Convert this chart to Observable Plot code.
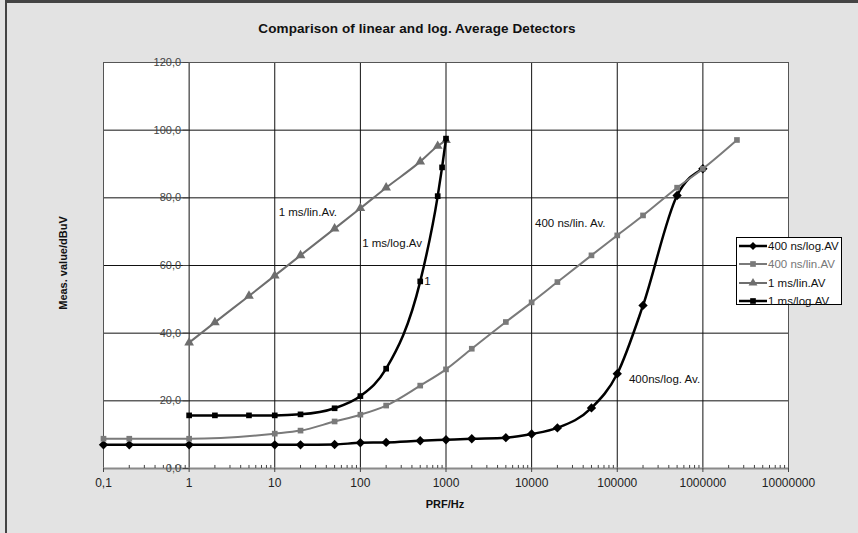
<!DOCTYPE html>
<html><head><meta charset="utf-8">
<script src="https://cdn.jsdelivr.net/npm/d3@7"></script>
<script src="https://cdn.jsdelivr.net/npm/@observablehq/plot@0.6"></script>
<style>
html,body{margin:0;padding:0;background:#e3e3e3;}
#wrap{position:relative;width:858px;height:533px;overflow:hidden;font-family:"Liberation Sans",Arial,sans-serif;background:#e3e3e3;}
#frame{position:absolute;left:5px;top:0;width:900px;height:600px;border-left:2px solid #444;border-top:3px solid #444;box-sizing:border-box;pointer-events:none;}
#title{position:absolute;left:0;width:834px;top:21px;text-align:center;font-size:13.5px;font-weight:bold;color:#111;letter-spacing:0.1px;}
#ylab{position:absolute;left:63px;top:263px;transform:translate(-50%,-50%) rotate(-90deg);white-space:nowrap;font-size:11px;font-weight:bold;color:#111;}
#xlab{position:absolute;left:445px;top:504px;transform:translate(-50%,-50%);white-space:nowrap;font-size:11px;font-weight:bold;color:#111;}
#legend{position:absolute;left:736px;top:237px;width:106px;height:68px;border:1px solid #000;background:#fff;box-sizing:border-box;}
.row{position:absolute;left:1px;height:14px;display:flex;align-items:center;font-size:11.5px;white-space:nowrap;}
#chart{position:absolute;left:0;top:0;}
</style>
</head><body>
<div id="wrap">
  <div id="chart"></div>
  <div id="title">Comparison of linear and log. Average Detectors</div>
  <div id="ylab">Meas. value/dBuV</div>
  <div id="xlab">PRF/Hz</div>
  <div id="legend"></div>
  <div id="frame"></div>
</div>
<script>
// ---- data ----
const seriesNames = ["400 ns/log.AV", "400 ns/lin.AV", "1 ms/lin.AV", "1 ms/log.AV"];

const ns400LogX = [0.1, 0.2, 1, 10, 20, 50, 100, 200, 500, 1000, 2000, 5000, 10000, 20000, 50000, 100000, 200000, 500000, 1000000];
const ns400LogY = [7.0, 7.0, 7.0, 7.0, 7.0, 7.1, 7.6, 7.7, 8.2, 8.5, 8.8, 9.1, 10.2, 12.0, 17.9, 28.0, 48.2, 80.7, 88.6];

const ns400LinX = [0.1, 0.2, 1, 10, 20, 50, 100, 200, 500, 1000, 2000, 5000, 10000, 20000, 50000, 100000, 200000, 500000, 1000000, 2500000];
const ns400LinY = [8.8, 8.8, 8.8, 10.3, 11.2, 13.9, 15.9, 18.6, 24.5, 29.3, 35.4, 43.3, 49.1, 55.1, 63.0, 68.9, 74.8, 83.0, 88.6, 97.1];

const ms1LinX = [1, 2, 5, 10, 20, 50, 100, 200, 500, 800, 1000];
const ms1LinY = [37.2, 43.2, 51.0, 57.0, 63.0, 70.9, 76.9, 83.0, 90.7, 95.3, 97.0];

const ms1LogX = [1, 2, 5, 10, 20, 50, 100, 200, 500, 800, 900, 1000];
const ms1LogY = [15.7, 15.7, 15.7, 15.7, 16.0, 17.8, 21.4, 29.5, 55.3, 80.5, 89.0, 97.5];

const xTicks = [0.1, 1, 10, 100, 1000, 10000, 100000, 1000000, 10000000];
const xTickLabels = ["0,1", "1", "10", "100", "1000", "10000", "100000", "1000000", "10000000"];
const yTicks = [0, 20, 40, 60, 80, 100, 120];

const annoText = ["1 ms/lin.Av.", "1 ms/log.Av", "400 ns/lin. Av.", "400ns/log. Av."];
const annoX = [11.1, 105, 10950, 137000];
const annoY = [75.7, 66.6, 72.6, 26.5];

const pointLabelText = ["1"];
const pointLabelX = [500];
const pointLabelY = [55.3];

// ---- build ----
const zip = (xs, ys) => xs.map((x, i) => ({x, y: ys[i]}));
const styles = [
  {data: zip(ns400LogX, ns400LogY), color: "#000", width: 2.5, symbol: "diamond2", r: 4.2},
  {data: zip(ns400LinX, ns400LinY), color: "#7a7a7a", width: 2, symbol: "square", r: 3.2},
  {data: zip(ms1LinX, ms1LinY), color: "#6e6e6e", width: 2, symbol: "triangle", r: 3.6},
  {data: zip(ms1LogX, ms1LogY), color: "#000", width: 2.5, symbol: "square", r: 3.2}
];

const minorTicks = [];
for (let e = -1; e < 7; e++) for (let k = 2; k <= 9; k++) minorTicks.push(k * Math.pow(10, e));

const yFmt = d => d.toFixed(1).replace(".", ",");
const xFmt = d => xTickLabels[xTicks.indexOf(d)];

const seriesMarks = styles.flatMap(s => [
  Plot.line(s.data, {x: "x", y: "y", stroke: s.color, strokeWidth: s.width, curve: "monotone-x"}),
  Plot.dot(s.data, {x: "x", y: "y", symbol: s.symbol, r: s.r, fill: s.color, stroke: "none"})
]);

const chart = Plot.plot({
  width: 858, height: 533,
  marginLeft: 103, marginRight: 70, marginTop: 62, marginBottom: 65,
  style: {background: "transparent", fontFamily: "'Liberation Sans', Arial, sans-serif", overflow: "visible"},
  x: {type: "log", domain: [0.1, 1e7]},
  y: {domain: [0, 120]},
  marks: [
    Plot.frame({fill: "#fff", stroke: "none"}),
    Plot.gridX(xTicks, {stroke: "#111", strokeOpacity: 1, strokeWidth: 1}),
    Plot.gridY(yTicks, {stroke: "#111", strokeOpacity: 1, strokeWidth: 1}),
    Plot.frame({stroke: "#555"}),
    Plot.ruleY([0], {stroke: "#8a8a8a", strokeWidth: 2}),
    Plot.ruleX(minorTicks, {y1: 0, y2: 0.9, stroke: "#444"}),
    Plot.axisX(xTicks, {tickFormat: xFmt, tickSize: 4, tickPadding: 6, fontSize: 12, fill: "#222", stroke: "#444", label: null}),
    Plot.axisY(yTicks, {anchor: "left", dx: 85.6, tickFormat: yFmt, tickSize: 6, tickPadding: 2, fontSize: 11, fill: "#444", stroke: "#444", label: null}),
    ...seriesMarks,
    Plot.text(annoText, {x: (d, i) => annoX[i], y: (d, i) => annoY[i], text: d => d, textAnchor: "start", fontSize: 11.5, fill: "#111"}),
    Plot.text(pointLabelText, {x: (d, i) => pointLabelX[i], y: (d, i) => pointLabelY[i], text: d => d, textAnchor: "start", dx: 4, fontSize: 11.5, fill: "#111"})
  ]
});
document.getElementById("chart").appendChild(chart);

// legend
const symbolPaths = {
  diamond2: d3.symbol(d3.symbolDiamond2, 40)(),
  square: d3.symbol(d3.symbolSquare, 32)(),
  triangle: d3.symbol(d3.symbolTriangle, 34)()
};
const legend = document.getElementById("legend");
const rowTops = [1, 19, 38, 56];
styles.forEach((s, i) => {
  const row = document.createElement("div");
  row.className = "row";
  row.style.top = rowTops[i] + "px";
  row.innerHTML = `<svg width="30" height="12"><line x1="1" x2="29" y1="6" y2="6" stroke="${s.color}" stroke-width="${s.width}"/><path transform="translate(15,6)" d="${symbolPaths[s.symbol]}" fill="${s.color}"/></svg><span style="color:${i === 1 ? '#777' : '#111'}">${seriesNames[i]}</span>`;
  legend.appendChild(row);
});
</script>
</body></html>
